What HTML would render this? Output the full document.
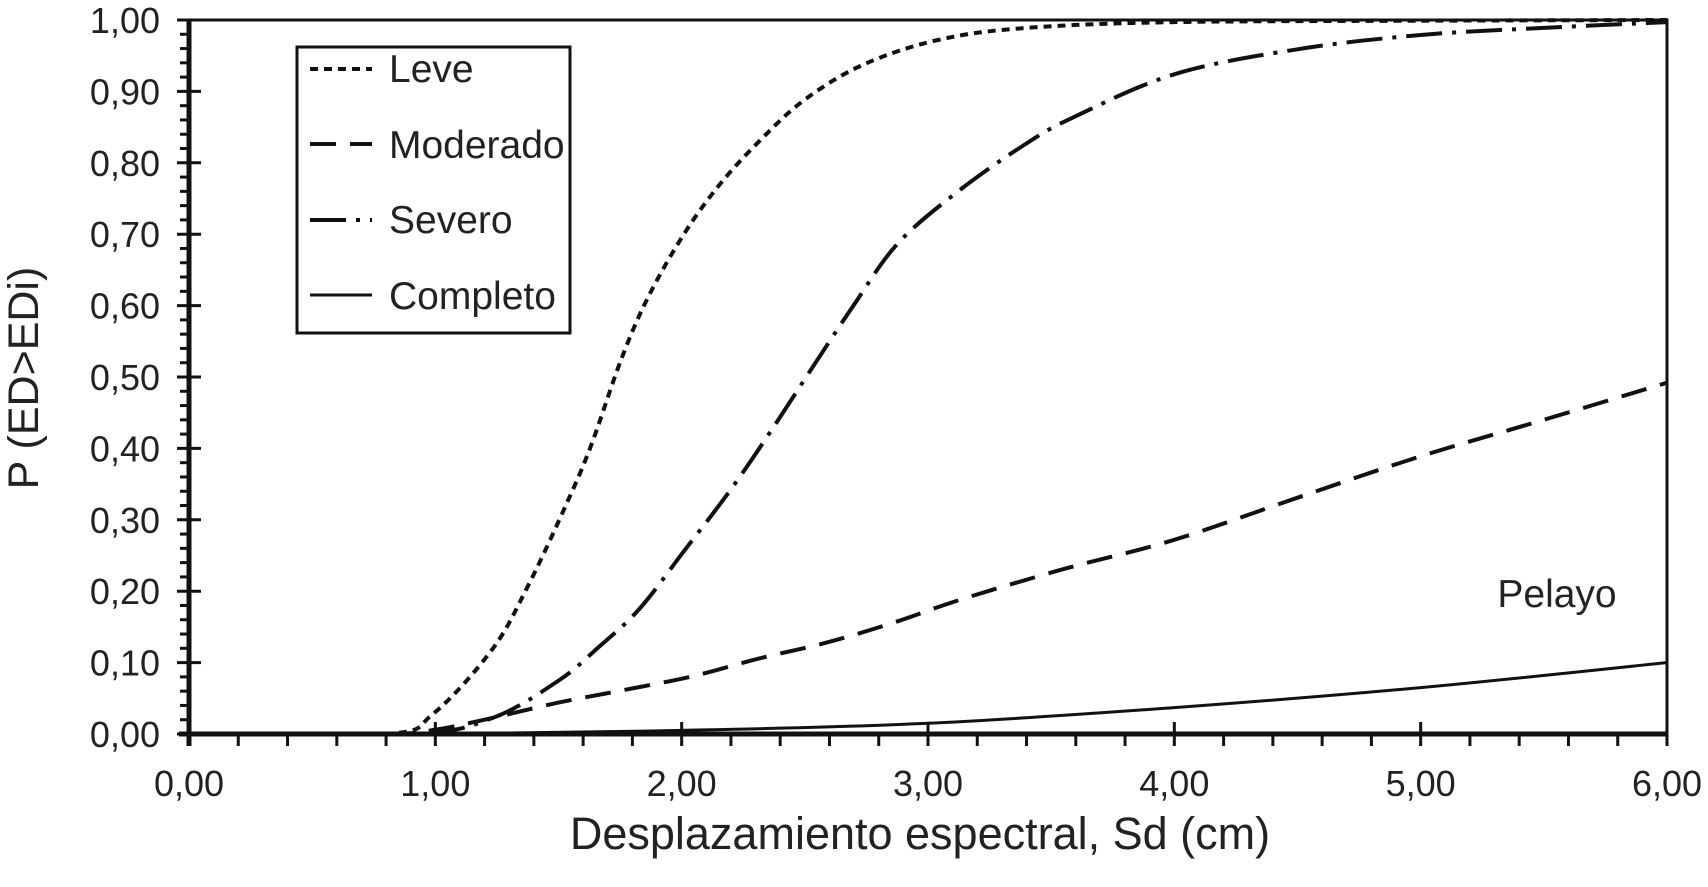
<!DOCTYPE html>
<html><head><meta charset="utf-8"><style>
html,body{margin:0;padding:0;background:#fff;}
svg{display:block;font-family:"Liberation Sans",Arial,sans-serif;}
</style></head><body>
<svg id="chart" width="1708" height="887" viewBox="0 0 1708 887" xmlns="http://www.w3.org/2000/svg">
<g id="series"></g>
<g id="axes"></g>
<g id="labels"></g>
<text x="0" y="0" transform="translate(38,378) rotate(-90)" text-anchor="middle" font-size="43" fill="#222">P (ED&gt;EDi)</text>
<text x="920" y="849" text-anchor="middle" font-size="45" fill="#222">Desplazamiento espectral, Sd (cm)</text>
<text x="1557" y="607" text-anchor="middle" font-size="39" fill="#222">Pelayo</text>
<g>
<rect x="297" y="47" width="273" height="286" fill="#fff" stroke="#111" stroke-width="3"/>
<line x1="310" y1="69" x2="372" y2="69" stroke="#111" stroke-width="4" stroke-dasharray="8,6"/>
<text x="389" y="82" font-size="39" fill="#222">Leve</text>
<line x1="310" y1="144" x2="372" y2="144" stroke="#111" stroke-width="4" stroke-dasharray="26,14"/>
<text x="389" y="158" font-size="39" fill="#222">Moderado</text>
<line x1="310" y1="220" x2="372" y2="220" stroke="#111" stroke-width="4" stroke-dasharray="36,10,4,10"/>
<text x="389" y="233" font-size="39" fill="#222">Severo</text>
<line x1="310" y1="295" x2="372" y2="295" stroke="#111" stroke-width="3"/>
<text x="389" y="309" font-size="39" fill="#222">Completo</text>
</g>
</svg>
<script>
const leveX = [0, 0.8, 0.99, 1.23, 1.374, 1.519, 1.628, 1.755, 1.864, 2.009, 2.153, 2.317, 2.498, 2.734, 3.04, 3.4, 4.0, 5.0, 6.0];
const leveP = [0, 0, 0.028, 0.118, 0.206, 0.312, 0.40, 0.525, 0.612, 0.70, 0.769, 0.831, 0.888, 0.937, 0.972, 0.989, 0.997, 0.999, 1.0];
const moderadoX = [0, 0.8, 1.0, 1.2, 1.5, 1.773, 2.045, 2.317, 2.588, 2.86, 3.13, 3.55, 4.0, 4.5, 5.0, 5.5, 6.0];
const moderadoP = [0, 0, 0.006, 0.02, 0.044, 0.062, 0.081, 0.106, 0.128, 0.156, 0.188, 0.231, 0.272, 0.331, 0.389, 0.44, 0.492];
const severoX = [0, 0.9, 1.229, 1.501, 1.664, 1.828, 2.009, 2.19, 2.352, 2.517, 2.697, 2.88, 3.13, 3.39, 3.586, 4.0, 4.5, 5.0, 5.5, 6.0];
const severoP = [0, 0, 0.022, 0.075, 0.122, 0.175, 0.256, 0.338, 0.419, 0.506, 0.60, 0.688, 0.762, 0.825, 0.863, 0.924, 0.959, 0.979, 0.989, 0.997];
const completoX = [0, 1.0, 1.2, 2.0, 3.0, 4.0, 5.0, 6.0];
const completoP = [0, 0, 0.001, 0.005, 0.015, 0.037, 0.065, 0.10];
const xTickLabels = ["0,00","1,00","2,00","3,00","4,00","5,00","6,00"];
const yTickLabels = ["0,00","0,10","0,20","0,30","0,40","0,50","0,60","0,70","0,80","0,90","1,00"];

const NS = "http://www.w3.org/2000/svg";
const X0 = 189, X1 = 1667, Y0 = 734, Y1 = 20;
const xs = v => X0 + (X1 - X0) * v / 6;
const ys = p => Y0 - (Y0 - Y1) * p;
function mk(tag, attrs, parent){const e=document.createElementNS(NS,tag);for(const k in attrs)e.setAttribute(k,attrs[k]);parent.appendChild(e);return e;}
const series = document.getElementById('series');
const axes = document.getElementById('axes');
const labels = document.getElementById('labels');

function smoothPath(P){
  let d = `M${P[0][0].toFixed(1)},${P[0][1].toFixed(1)}`;
  for(let i=0;i<P.length-1;i++){
    const p0=P[Math.max(i-1,0)], p1=P[i], p2=P[i+1], p3=P[Math.min(i+2,P.length-1)];
    let c1y=p1[1]+(p2[1]-p0[1])/6, c2y=p2[1]-(p3[1]-p1[1])/6;
    const lo=Math.min(p1[1],p2[1]), hi=Math.max(p1[1],p2[1]);
    c1y=Math.min(hi,Math.max(lo,c1y)); c2y=Math.min(hi,Math.max(lo,c2y));
    const c1=[p1[0]+(p2[0]-p0[0])/6,c1y], c2=[p2[0]-(p3[0]-p1[0])/6,c2y];
    d+=` C${c1[0].toFixed(1)},${c1[1].toFixed(1)} ${c2[0].toFixed(1)},${c2[1].toFixed(1)} ${p2[0].toFixed(1)},${p2[1].toFixed(1)}`;
  }
  return d;
}
function drawSeries(xv, pv, name, dash, w){
  const P = xv.map((x,i)=>[xs(x), ys(pv[i])]);
  const pl = mk('path',{d:smoothPath(P),fill:'none',stroke:'#111','stroke-width':w,'stroke-dasharray':dash},series);
  
  
}
drawSeries(leveX, leveP, 'series-leve', '8,6', 4);
drawSeries(moderadoX, moderadoP, 'series-moderado', '26,14', 4);
drawSeries(severoX, severoP, 'series-severo', '36,10,4,10', 4);
drawSeries(completoX, completoP, 'series-completo', 'none', 3);

const fr = mk('path',{d:`M${X0},${Y0} L${X0},${Y1} L${X1},${Y1} L${X1},${Y0} Z`,fill:'none',stroke:'#111','stroke-width':3},axes);


const xa = mk('line',{x1:X0-10,y1:Y0,x2:X1,y2:Y0,stroke:'#111','stroke-width':5},axes);


const ya = mk('line',{x1:X0,y1:Y1,x2:X0,y2:Y0+12,stroke:'#111','stroke-width':5},axes);



for(let i=0;i<=30;i++){
  const v=i*0.2, major=(i%5===0);
  const t=mk('line',{x1:xs(v),x2:xs(v),y1:major?Y0-12:Y0,y2:Y0+12,stroke:'#111','stroke-width':3},axes);
  
  
}
xTickLabels.forEach((s,i)=>{
  const t=mk('text',{x:xs(i),y:796,'text-anchor':'middle','font-size':36,fill:'#222'},labels);
  t.textContent=s;
  
  
});
for(let i=0;i<=50;i++){
  const p=i*0.02, major=(i%5===0);
  const t=mk('line',{x1:X0-(major?12:9),x2:major?X0+12:X0,y1:ys(p),y2:ys(p),stroke:'#111','stroke-width':3},axes);
  
  
}
yTickLabels.forEach((s,i)=>{
  const t=mk('text',{x:160,y:ys(i/10)+13,'text-anchor':'end','font-size':36,fill:'#222'},labels);
  t.textContent=s;
  
  
});
</script>
</body></html>
